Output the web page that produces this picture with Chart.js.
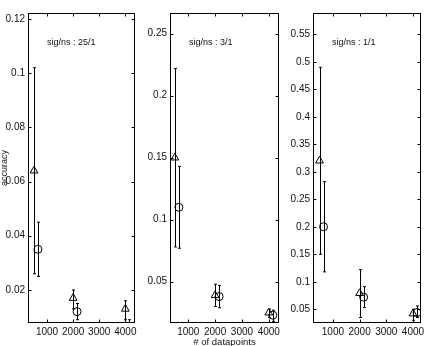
<!DOCTYPE html>
<html>
<head>
<meta charset="utf-8">
<script src="https://cdn.jsdelivr.net/npm/chart.js@4.4.0/dist/chart.umd.min.js"></script>
<style>
  body { margin: 0; background: #fff; }
  #wrap { position: relative; width: 438px; height: 346px; overflow: hidden; }
  #wrap canvas { position: absolute; top: 0; }
</style>
</head>
<body>
<div id="wrap">
  <canvas id="p1" width="141" height="346" style="left:0px"></canvas>
  <canvas id="p2" width="145" height="346" style="left:141px"></canvas>
  <canvas id="p3" width="152" height="346" style="left:286px"></canvas>
</div>
<script>
// x positions (# of datapoints), triangles and circles are drawn a bit apart
const triX = [500, 2000, 4000];
const circX = [650, 2150, 4150];
const xTicks = [1000, 2000, 3000, 4000];

// sig/ns : 25/1
const tri1 = [0.064, 0.017, 0.013];
const tri1Lo = [0.026, 0.013, 0.009];
const tri1Hi = [0.102, 0.020, 0.016];
const circ1 = [0.035, 0.012, 0.004];
const circ1Lo = [0.025, 0.009, 0.002];
const circ1Hi = [0.045, 0.015, 0.009];
const yTicks1 = [0.02, 0.04, 0.06, 0.08, 0.1, 0.12];

// sig/ns : 3/1
const tri2 = [0.150, 0.039, 0.025];
const tri2Lo = [0.078, 0.030, 0.021];
const tri2Hi = [0.222, 0.048, 0.028];
const circ2 = [0.110, 0.038, 0.023];
const circ2Lo = [0.077, 0.029, 0.018];
const circ2Hi = [0.143, 0.047, 0.027];
const yTicks2 = [0.05, 0.1, 0.15, 0.2, 0.25];

// sig/ns : 1/1
const tri3 = [0.320, 0.079, 0.042];
const tri3Lo = [0.150, 0.035, 0.030];
const tri3Hi = [0.490, 0.122, 0.050];
const circ3 = [0.200, 0.072, 0.044];
const circ3Lo = [0.118, 0.053, 0.035];
const circ3Hi = [0.282, 0.091, 0.056];
const yTicks3 = [0.05, 0.1, 0.15, 0.2, 0.25, 0.3, 0.35, 0.4, 0.45, 0.5, 0.55];

const FONT = 'Liberation Sans, Arial, sans-serif';

// error bars with small caps
const errorBars = {
  id: 'errorBars',
  afterDatasetsDraw(chart) {
    const ctx = chart.ctx, a = chart.chartArea;
    const xs = chart.scales.x, ys = chart.scales.y;
    ctx.save();
    ctx.beginPath();
    ctx.rect(a.left, a.top, a.right - a.left, a.bottom - a.top);
    ctx.clip();
    ctx.strokeStyle = '#000';
    ctx.lineWidth = 1;
    chart.data.datasets.forEach(ds => {
      ds.data.forEach((p, i) => {
        const x = Math.round(xs.getPixelForValue(p.x)) + 0.5;
        const y1 = ys.getPixelForValue(ds.lo[i]);
        const y2 = ys.getPixelForValue(ds.hi[i]);
        ctx.beginPath();
        ctx.moveTo(x, y1); ctx.lineTo(x, y2);
        ctx.moveTo(x - 1.5, y1); ctx.lineTo(x + 1.5, y1);
        ctx.moveTo(x - 1.5, y2); ctx.lineTo(x + 1.5, y2);
        ctx.stroke();
      });
    });
    ctx.restore();
  }
};

// box around the plot with inward ticks on all four sides
const boxTicks = {
  id: 'boxTicks',
  afterDraw(chart, args, opts) {
    const ctx = chart.ctx, a = chart.chartArea;
    const xs = chart.scales.x, ys = chart.scales.y;
    const L = Math.round(a.left) + 0.5, R = Math.round(a.right) - 0.5;
    const T = Math.round(a.top) + 0.5, B = Math.round(a.bottom) - 0.5;
    ctx.save();
    ctx.strokeStyle = '#000';
    ctx.lineWidth = 1;
    ctx.strokeRect(L, T, R - L, B - T);
    ctx.beginPath();
    xs.ticks.forEach(t => {
      const x = Math.round(xs.getPixelForValue(t.value)) + 0.5;
      ctx.moveTo(x, B); ctx.lineTo(x, B - 3);
      ctx.moveTo(x, T); ctx.lineTo(x, T + 3);
    });
    ys.ticks.forEach(t => {
      const y = Math.round(ys.getPixelForValue(t.value)) + 0.5;
      ctx.moveTo(L, y); ctx.lineTo(L + 3, y);
      ctx.moveTo(R, y); ctx.lineTo(R - 3, y);
    });
    ctx.stroke();
    if (opts.text) {
      ctx.fillStyle = '#111';
      ctx.font = '9px ' + FONT;
      ctx.textBaseline = 'alphabetic';
      ctx.fillText(opts.text, a.left + 19, 45);
    }
    ctx.restore();
  }
};

function makePanel(id, cfg) {
  const xTitle = cfg.xTitle || '';
  const yTitle = cfg.yTitle || '';
  return new Chart(document.getElementById(id), {
    type: 'scatter',
    data: {
      datasets: [
        {
          data: triX.map((x, i) => ({ x: x, y: cfg.tri[i] })),
          lo: cfg.triLo, hi: cfg.triHi,
          pointStyle: 'triangle', pointRadius: 4.5,
          borderColor: '#000', backgroundColor: 'rgba(0,0,0,0)', borderWidth: 1
        },
        {
          data: circX.map((x, i) => ({ x: x, y: cfg.circ[i] })),
          lo: cfg.circLo, hi: cfg.circHi,
          pointStyle: 'circle', pointRadius: 4,
          borderColor: '#000', backgroundColor: 'rgba(0,0,0,0)', borderWidth: 1
        }
      ]
    },
    options: {
      responsive: false,
      animation: false,
      devicePixelRatio: 1,
      layout: { padding: { top: 13, right: cfg.padRight, left: 0, bottom: 0 } },
      plugins: {
        legend: { display: false },
        tooltip: { enabled: false },
        boxTicks: { text: cfg.label }
      },
      scales: {
        x: {
          type: 'linear',
          min: cfg.xMin, max: cfg.xMax,
          afterBuildTicks: s => { s.ticks = xTicks.map(v => ({ value: v })); },
          afterFit: s => { s.height = 23; },
          grid: { display: false, drawTicks: false },
          border: { display: false },
          ticks: {
            padding: 3, color: '#111', font: { family: FONT, size: 10 },
            maxRotation: 0, callback: v => String(v)
          },
          title: {
            display: !!xTitle, text: xTitle, color: '#111',
            font: { family: FONT, size: 9.5 }, padding: { top: 0, bottom: -2 }
          }
        },
        y: {
          type: 'linear',
          min: cfg.yMin, max: cfg.yMax,
          afterBuildTicks: s => { s.ticks = cfg.yTicks.map(v => ({ value: v })); },
          afterFit: s => { s.width = cfg.yWidth; },
          grid: { display: false, drawTicks: false },
          border: { display: false },
          ticks: {
            padding: 3, color: '#111', font: { family: FONT, size: 10 },
            callback: v => String(+v.toFixed(4))
          },
          title: {
            display: !!yTitle, text: yTitle, color: '#111',
            font: { family: FONT, size: 9 }, padding: { top: -1 }
          }
        }
      }
    },
    plugins: [errorBars, boxTicks]
  });
}

makePanel('p1', {
  tri: tri1, triLo: tri1Lo, triHi: tri1Hi,
  circ: circ1, circLo: circ1Lo, circHi: circ1Hi,
  yTicks: yTicks1, yMin: 0.0078, yMax: 0.1222,
  xMin: 270, xMax: 4370, yWidth: 28, padRight: 6,
  label: 'sig/ns : 25/1', yTitle: 'accuracy'
});
makePanel('p2', {
  tri: tri2, triLo: tri2Lo, triHi: tri2Hi,
  circ: circ2, circLo: circ2Lo, circHi: circ2Hi,
  yTicks: yTicks2, yMin: 0.0167, yMax: 0.2667,
  xMin: 320, xMax: 4380, yWidth: 29, padRight: 7,
  label: 'sig/ns : 3/1', xTitle: '# of datapoints'
});
makePanel('p3', {
  tri: tri3, triLo: tri3Lo, triHi: tri3Hi,
  circ: circ3, circLo: circ3Lo, circHi: circ3Hi,
  yTicks: yTicks3, yMin: 0.025, yMax: 0.5887,
  xMin: 255, xMax: 4300, yWidth: 27, padRight: 17,
  label: 'sig/ns : 1/1'
});
</script>
</body>
</html>
